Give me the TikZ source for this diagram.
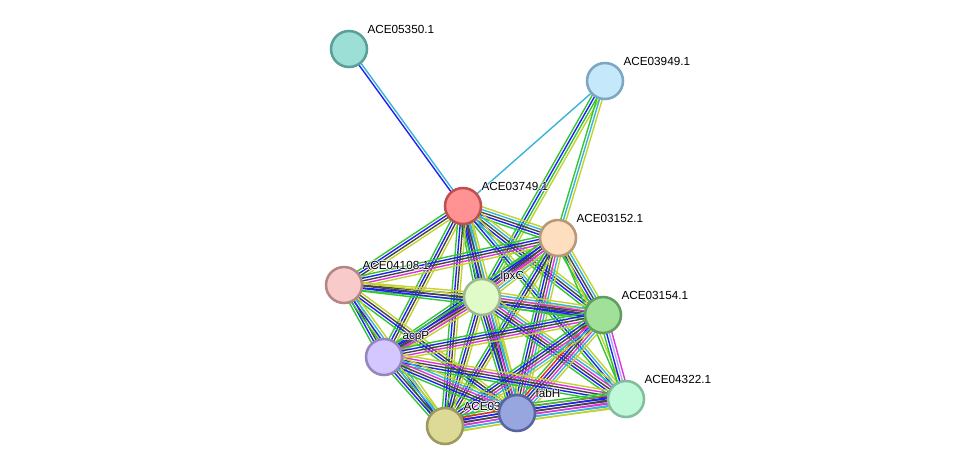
\documentclass[tikz,border=0pt]{standalone}
\usepackage{fontspec}
\setmainfont{Liberation Sans}
\usetikzlibrary{calc,backgrounds}

% evidence colours
\definecolor{evGreen}{HTML}{33C633}
\definecolor{evRed}{HTML}{F02828}
\definecolor{evBlue}{HTML}{2020F0}
\definecolor{evBlack}{HTML}{454545}
\definecolor{evMagenta}{HTML}{DD33DD}
\definecolor{evCyan}{HTML}{38B4DA}
\definecolor{evYellow}{HTML}{C2D330}
\definecolor{evHomol}{HTML}{A8A8FF}

% parallel coloured lines between two nodes
\newcommand{\evlink}[3]{%
  \foreach \col [count=\n] in {#3} {\xdef\nlines{\n}}%
  \foreach \col [count=\i] in {#3} {%
    \pgfmathsetmacro{\off}{(\i-(\nlines+1)/2)*2}%
    \draw [link, \col] ($(#1)!\off pt!90:(#2)$) -- ($(#2)!\off pt!-90:(#1)$);
  }}

% white rim round label text
\newcommand{\halo}[1]{\leavevmode
  \rlap{\color{white}\hspace{0.6pt}#1}\rlap{\color{white}\hspace{-0.6pt}#1}%
  \rlap{\color{white}\raisebox{0.6pt}{#1}}\rlap{\color{white}\raisebox{-0.6pt}{#1}}#1}

\begin{document}
\begin{tikzpicture}[x=0.75pt, y=-0.75pt,
    prot/.style={draw, circle, line width=1.9pt, minimum size=27pt, inner sep=0pt},
    lbl/.style={font=\fontsize{8.8}{10}\selectfont, inner sep=1pt, xshift=2.5pt, yshift=-0.5pt},
    link/.style={line width=1.05pt}]
  \useasboundingbox (0,0) rectangle (975,472);

  % Nodes
  \node [prot, fill={rgb,255:red,155;green,223;blue,214}, draw={rgb,255:red,90;green,160;blue,152}, label={[lbl]45:\halo{ACE05350.1}}] (p5350) at (349,49) {};
  \node [prot, fill={rgb,255:red,197;green,233;blue,251}, draw={rgb,255:red,125;green,166;blue,194}, label={[lbl]45:\halo{ACE03949.1}}] (p3949) at (605,81) {};
  \node [prot, fill={rgb,255:red,255;green,146;blue,146}, draw={rgb,255:red,190;green,80;blue,80}, label={[lbl]45:\halo{ACE03749.1}}] (p3749) at (463,206) {};
  \node [prot, fill={rgb,255:red,253;green,223;blue,192}, draw={rgb,255:red,185;green,152;blue,122}, label={[lbl]45:\halo{ACE03152.1}}] (p3152) at (558,238) {};
  \node [prot, fill={rgb,255:red,248;green,202;blue,202}, draw={rgb,255:red,182;green,134;blue,134}, label={[lbl]45:\halo{ACE04108.1}}] (p4108) at (344,285) {};
  \node [prot, fill={rgb,255:red,224;green,251;blue,200}, draw={rgb,255:red,160;green,184;blue,142}, label={[lbl]45:\halo{lpxC}}] (lpxC) at (482,297) {};
  \node [prot, fill={rgb,255:red,160;green,224;blue,152}, draw={rgb,255:red,96;green,158;blue,96}, label={[lbl]45:\halo{ACE03154.1}}] (p3154) at (603,315) {};
  \node [prot, fill={rgb,255:red,212;green,198;blue,255}, draw={rgb,255:red,150;green,134;blue,190}, label={[lbl]45:\halo{acpP}}] (acpP) at (384,357) {};
  \node [prot, fill={rgb,255:red,192;green,249;blue,218}, draw={rgb,255:red,128;green,190;blue,158}, label={[lbl]45:\halo{ACE04322.1}}] (p4322) at (626,399) {};
  \node [prot, fill={rgb,255:red,221;green,218;blue,152}, draw={rgb,255:red,156;green,152;blue,94}, label={[lbl]45:\halo{ACE03}}] (p03) at (445,426) {};
  \node [prot, fill={rgb,255:red,152;green,166;blue,224}, draw={rgb,255:red,88;green,100;blue,160}, label={[lbl]45:\halo{fabH}}] (fabH) at (517,413) {};

  % Edges
  \begin{scope}[on background layer]
    \evlink{p5350}{p3749}{evBlue,evCyan}
    \evlink{p3949}{p3749}{evCyan}
    \evlink{p3949}{lpxC}{evGreen,evBlue,evGreen,evYellow}
    \evlink{p3949}{p3152}{evGreen,evCyan,evYellow}

    \evlink{p3749}{p3152}{evGreen,evBlue,evBlack,evCyan,evYellow}
    \evlink{p3749}{p4108}{evGreen,evBlue,evBlack,evYellow}
    \evlink{p3749}{lpxC}{evGreen,evBlue,evBlack,evCyan,evYellow}
    \evlink{p3749}{p3154}{evGreen,evBlue,evBlack,evCyan,evYellow}
    \evlink{p3749}{acpP}{evGreen,evBlue,evBlack,evYellow}
    \evlink{p3749}{p4322}{evGreen,evBlue,evCyan,evYellow}
    \evlink{p3749}{fabH}{evGreen,evBlue,evBlack,evCyan,evYellow}
    \evlink{p3749}{p03}{evGreen,evBlue,evBlack,evYellow}

    \evlink{p3152}{p4108}{evGreen,evBlue,evBlack,evMagenta,evYellow}
    \evlink{p3152}{lpxC}{evGreen,evBlue,evBlack,evMagenta,evCyan,evYellow}
    \evlink{p3152}{p3154}{evGreen,evBlue,evBlack,evCyan,evYellow}
    \evlink{p3152}{acpP}{evGreen,evBlue,evBlack,evMagenta,evYellow}
    \evlink{p3152}{p4322}{evGreen,evYellow}
    \evlink{p3152}{fabH}{evGreen,evBlue,evBlack,evMagenta,evCyan,evYellow}
    \evlink{p3152}{p03}{evGreen,evBlue,evBlack,evYellow}

    \evlink{p4108}{lpxC}{evGreen,evBlue,evBlack,evYellow}
    \evlink{p4108}{p3154}{evGreen,evBlue,evBlack,evYellow}
    \evlink{p4108}{acpP}{evGreen,evBlue,evBlack,evYellow}
    \evlink{p4108}{fabH}{evGreen,evBlue,evBlack,evYellow}
    \evlink{p4108}{p03}{evGreen,evBlue,evCyan,evYellow}

    \evlink{lpxC}{p3154}{evGreen,evBlue,evBlack,evMagenta,evCyan,evYellow}
    \evlink{lpxC}{acpP}{evGreen,evBlue,evBlack,evMagenta,evYellow}
    \evlink{lpxC}{p4322}{evGreen,evBlue,evBlack,evMagenta,evCyan,evYellow}
    \evlink{lpxC}{fabH}{evGreen,evBlue,evBlack,evMagenta,evCyan,evYellow}
    \evlink{lpxC}{p03}{evGreen,evBlue,evBlack,evYellow}

    \evlink{p3154}{acpP}{evGreen,evBlue,evBlack,evMagenta,evYellow}
    \evlink{p3154}{p4322}{evGreen,evBlue,evHomol,evMagenta}
    \evlink{p3154}{fabH}{evGreen,evRed,evBlue,evBlack,evMagenta,evCyan,evYellow}
    \evlink{p3154}{p03}{evGreen,evBlue,evBlack,evMagenta,evCyan,evYellow}

    \evlink{acpP}{p4322}{evGreen,evBlue,evBlack,evMagenta,evYellow}
    \evlink{acpP}{fabH}{evGreen,evBlue,evBlack,evMagenta,evCyan,evYellow}
    \evlink{acpP}{p03}{evGreen,evBlue,evBlack,evCyan,evYellow}

    \evlink{p4322}{fabH}{evGreen,evRed,evBlue,evBlack,evMagenta,evCyan,evYellow}
    \evlink{p4322}{p03}{evGreen,evBlue,evBlack,evMagenta,evCyan,evYellow}
    \evlink{fabH}{p03}{evGreen,evRed,evBlue,evBlack,evMagenta,evCyan,evYellow}
  \end{scope}
\end{tikzpicture}
\end{document}
